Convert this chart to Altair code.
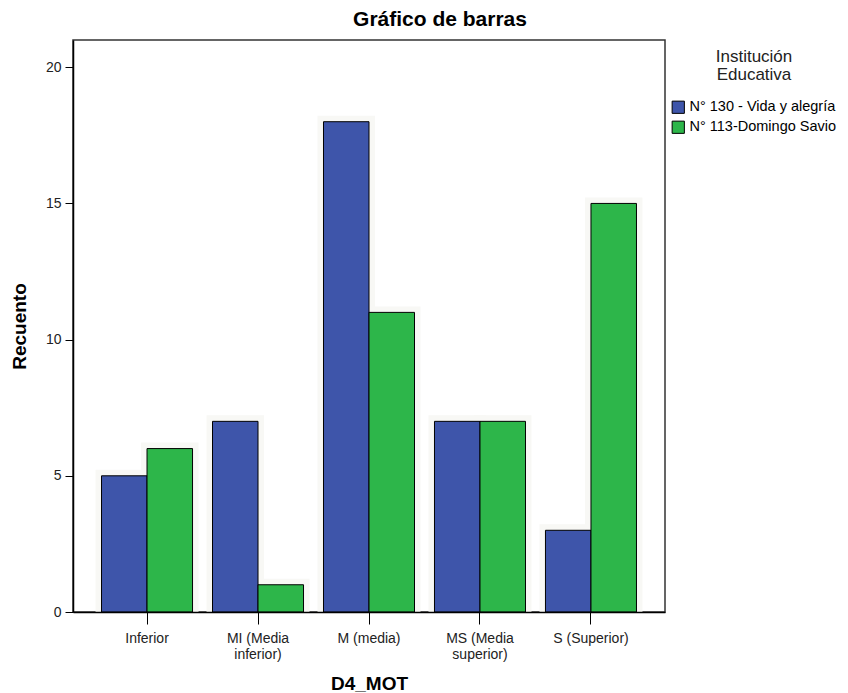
import altair as alt
import pandas as pd

categories = ["Inferior", "MI (Media\ninferior)", "M (media)", "MS (Media\nsuperior)", "S (Superior)"]
institutions = ["N° 130 - Vida y alegría", "N° 113-Domingo Savio"]
vida = [5, 7, 18, 7, 3]
domingo = [6, 1, 11, 7, 15]
colors = ["#3E55AA", "#2DB64A"]

rows = []
for c, v in zip(categories, vida):
    rows.append({"cat": c, "inst": institutions[0], "n": v})
for c, v in zip(categories, domingo):
    rows.append({"cat": c, "inst": institutions[1], "n": v})
df = pd.DataFrame(rows)

FONT = "Liberation Sans"

x_enc = alt.X("cat:N", sort=categories,
              scale=alt.Scale(paddingInner=0.18, paddingOuter=0.257),
              axis=alt.Axis(title="D4_MOT", labelAngle=0,
                            labelExpr="split(datum.value, '\\n')",
                            labelLineHeight=16, tickSize=12, tickColor="black",
                            domainColor="black", domainWidth=1.5, labelPadding=7,
                            titlePadding=13, zindex=1))
xo_enc = alt.XOffset("inst:N", sort=institutions,
                     scale=alt.Scale(paddingInner=0, paddingOuter=0))
y_enc = alt.Y("n:Q", scale=alt.Scale(domain=[0, 21], nice=False),
              axis=alt.Axis(title="Recuento", values=[0, 5, 10, 15, 20],
                            grid=False, tickSize=8, tickColor="black",
                            domainColor="black", domainWidth=1.5, labelPadding=4,
                            titlePadding=16, zindex=1))

base = alt.Chart(df)

halo = base.mark_bar(color="#f8f8f5", stroke="#f8f8f5", strokeWidth=12,
                     clip=True).encode(x=x_enc, xOffset=xo_enc, y=y_enc)

bars = base.mark_bar(stroke="black", strokeWidth=1).encode(
    x=x_enc, xOffset=xo_enc, y=y_enc,
    color=alt.Color("inst:N", sort=institutions,
                    scale=alt.Scale(domain=institutions, range=colors),
                    legend=alt.Legend(title=["Institución", "Educativa"],
                                      orient="none", legendX=598, legendY=9,
                                      symbolType="square", symbolSize=150,
                                      symbolStrokeColor="black", symbolStrokeWidth=1,
                                      symbolOpacity=1,
                                      titleAlign="center", titleAnchor="middle",
                                      titleFontWeight="normal", titleFontSize=17,
                                      titleLineHeight=18, titlePadding=16,
                                      labelFontSize=14.5, rowPadding=3,
                                      labelColor="black", titleColor="#222")),
)

chart = alt.layer(halo, bars).properties(
    width=592, height=572,
    title=alt.TitleParams("Gráfico de barras", fontSize=21, fontWeight="bold",
                          anchor="middle", dx=71, offset=10, color="black"),
    autosize=alt.AutoSizeParams(type="none"),
    padding={"left": 65, "top": 32, "right": 175, "bottom": 80},
).configure(font=FONT).configure_axis(
    labelFont=FONT, titleFont=FONT, labelFontSize=14, titleFontSize=19,
    titleFontWeight="bold", labelColor="#222", titleColor="black",
).configure_view(stroke="#333", strokeWidth=1.5)

chart.save("out.html", embed_options={"renderer": "svg", "actions": False})
